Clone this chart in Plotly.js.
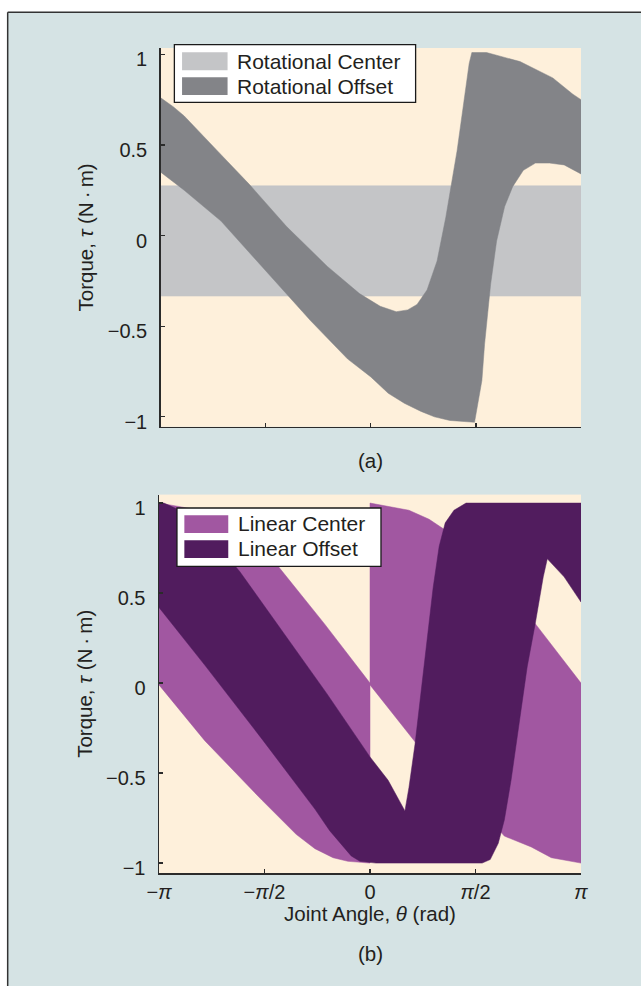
<!DOCTYPE html>
<html>
<head>
<meta charset="utf-8">
<script src="https://cdn.plot.ly/plotly-3.0.1.min.js"></script>
<style>
html, body { margin: 0; padding: 0; background: #ffffff; }
#chart { width: 641px; height: 986px; }
</style>
</head>
<body>
<div id="chart"></div>
<script>
// ---------- data (theta in rad, torque in N·m) ----------
// (a) Rotational configurations
const rotCenterTheta = [-3.1416, 3.1416];
const rotCenterLower = [-0.334, -0.334];
const rotCenterUpper = [0.275, 0.275];

const rotOffsetUpperTheta = [-3.1416, -2.95, -2.79, -2.30, -1.81, -1.26, -0.65, -0.17, 0.14, 0.38, 0.55, 0.69, 0.84, 0.99, 1.12, 1.29, 1.47, 1.51, 1.73, 2.23, 2.72, 3.02, 3.1416];
const rotOffsetUpper      = [0.76, 0.71, 0.66, 0.47, 0.28, 0.05, -0.17, -0.32, -0.39, -0.42, -0.41, -0.38, -0.30, -0.14, 0.10, 0.47, 0.95, 1.01, 1.01, 0.96, 0.87, 0.78, 0.75];
const rotOffsetLowerTheta = [-3.1416, -2.79, -2.24, -1.75, -1.26, -0.90, -0.35, 0.0, 0.26, 0.50, 0.75, 0.95, 1.18, 1.35, 1.55, 1.66, 1.70, 1.79, 1.88, 2.00, 2.12, 2.28, 2.46, 2.67, 2.89, 3.1416];
const rotOffsetLower      = [0.35, 0.25, 0.08, -0.12, -0.32, -0.47, -0.68, -0.78, -0.87, -0.925, -0.97, -1.0, -1.02, -1.025, -1.03, -0.80, -0.60, -0.27, -0.03, 0.16, 0.27, 0.36, 0.40, 0.40, 0.39, 0.34];

// (b) Linear configurations
const linCenterLowerTheta = [-3.1416, -2.46, -1.61, -1.10, -0.82, -0.55, -0.33, -0.03, 0, 0, 0.70, 1.53, 2.00, 2.40, 2.70, 3.1416];
const linCenterLower      = [-0.01, -0.32, -0.65, -0.84, -0.92, -0.97, -0.99, -1.0, -1.0, -0.01, -0.34, -0.65, -0.85, -0.91, -0.97, -1.0];
const linCenterUpperTheta = [-3.1416, -2.83, -2.56, -2.26, -2.02, -1.37, -0.68, 0, 0, 0.31, 0.58, 0.88, 1.12, 1.77, 2.46, 3.1416];
const linCenterUpper      = [1.0, 0.98, 0.96, 0.91, 0.85, 0.65, 0.33, 0.0, 1.0, 0.98, 0.96, 0.91, 0.85, 0.62, 0.33, 0.0];

const linOffsetLowerTheta = [-3.1416, -2.46, -1.61, -0.82, -0.60, -0.40, -0.28, -0.15, 0.09, 1.67, 1.79, 1.91, 2.00, 2.10, 2.22, 2.34, 2.46, 2.58, 2.64, 2.89, 3.1416];
const linOffsetLower      = [0.42, 0.10, -0.31, -0.70, -0.82, -0.91, -0.96, -0.99, -1.0, -1.0, -0.98, -0.89, -0.76, -0.54, -0.21, 0.09, 0.33, 0.59, 0.69, 0.59, 0.45];
const linOffsetUpperTheta = [-3.1416, -3.07, -2.83, -2.46, -1.94, -1.25, -0.64, 0, 0.27, 0.52, 0.58, 0.67, 0.76, 0.85, 0.94, 1.03, 1.12, 1.25, 1.43, 3.1416];
const linOffsetUpper      = [1.0, 1.0, 0.96, 0.85, 0.62, 0.26, -0.06, -0.41, -0.54, -0.71, -0.58, -0.34, -0.06, 0.24, 0.53, 0.76, 0.89, 0.96, 1.0, 1.0];

const seriesNames = ['Rotational Center', 'Rotational Offset', 'Linear Center', 'Linear Offset'];
const xTickVals = [-Math.PI, -Math.PI / 2, 0, Math.PI / 2, Math.PI];
const xTickText = ['\u2212<i>\u03c0</i>', '\u2212<i>\u03c0</i>/2', '0', '<i>\u03c0</i>/2', '<i>\u03c0</i>'];
const yTickVals = [-1, -0.5, 0, 0.5, 1];
const yTickText = ['\u22121', '\u22120.5', '0', '0.5', '1'];

// ---------- style ----------
const C = {
  bg: '#d5e3e4', plot: '#fef0db', axis: '#2b2b2b',
  rotCenter: '#c4c5c7', rotOffset: '#838488',
  linCenter: '#a157a1', linOffset: '#511c5e'
};
const FONT = 'Liberation Sans, Arial, Helvetica, sans-serif';
const TXT = '#231f20';
const W = 641, H = 986;
const M = { l: 158.6, r: 59.6, t: 47.7, b: 113.3 };
const PW = W - M.l - M.r, PH = H - M.t - M.b;
const px = X => (X - M.l) / PW;
const py = Y => (H - M.b - Y) / PH;

function band(thLo, lo, thUp, up, color, xa, ya, name) {
  return {
    type: 'scatter', mode: 'lines', name: name,
    x: thLo.concat(thUp.slice().reverse()),
    y: lo.concat(up.slice().reverse()),
    fill: 'toself', fillcolor: color,
    line: { width: 0.5, color: color },
    xaxis: xa, yaxis: ya, showlegend: false, hoverinfo: 'skip'
  };
}

const traces = [
  band(rotCenterTheta, rotCenterLower, rotCenterTheta, rotCenterUpper, C.rotCenter, 'x', 'y', seriesNames[0]),
  band(rotOffsetLowerTheta, rotOffsetLower, rotOffsetUpperTheta, rotOffsetUpper, C.rotOffset, 'x', 'y', seriesNames[1]),
  band(linCenterLowerTheta, linCenterLower, linCenterUpperTheta, linCenterUpper, C.linCenter, 'x2', 'y2', seriesNames[2]),
  band(linOffsetLowerTheta, linOffsetLower, linOffsetUpperTheta, linOffsetUpper, C.linOffset, 'x2', 'y2', seriesNames[3])
];

const baseX = {
  range: [-Math.PI, Math.PI], tickvals: xTickVals, ticktext: xTickText,
  ticks: 'inside', ticklen: 4, tickwidth: 1.2, tickcolor: C.axis,
  showline: true, linecolor: C.axis, linewidth: 1.5,
  showgrid: false, zeroline: false, fixedrange: true,
  tickfont: { family: FONT, size: 20, color: TXT }
};
const baseY = {
  tickvals: yTickVals, ticktext: yTickText,
  ticks: 'inside', ticklen: 4, tickwidth: 1.2, tickcolor: C.axis,
  showline: true, linecolor: C.axis, linewidth: 1.5,
  showgrid: false, zeroline: false, fixedrange: true,
  ticklabelstandoff: 8, ticklabelshift: 5,
  tickfont: { family: FONT, size: 20, color: TXT },
  title: { text: 'Torque, <i>\u03c4</i> (N\u2009\u00b7\u2009m)', font: { family: FONT, size: 20.5, color: TXT }, standoff: 8 }
};

// legend drawn as shapes + annotations
function legendShapes(box, sw1, sw2, c1, c2) {
  return [
    { type: 'rect', xref: 'paper', yref: 'paper', x0: px(box[0]), x1: px(box[1]), y0: py(box[3]), y1: py(box[2]),
      fillcolor: '#ffffff', line: { color: '#1a1a1a', width: 1.3 }, layer: 'above' },
    { type: 'rect', xref: 'paper', yref: 'paper', x0: px(sw1[0]), x1: px(sw1[1]), y0: py(sw1[3]), y1: py(sw1[2]),
      fillcolor: c1, line: { width: 0 }, layer: 'above' },
    { type: 'rect', xref: 'paper', yref: 'paper', x0: px(sw2[0]), x1: px(sw2[1]), y0: py(sw2[3]), y1: py(sw2[2]),
      fillcolor: c2, line: { width: 0 }, layer: 'above' }
  ];
}
function legendText(X, Y, t) {
  return { xref: 'paper', yref: 'paper', x: px(X), y: py(Y), xanchor: 'left', yanchor: 'middle',
    text: t, showarrow: false, font: { family: FONT, size: 21, color: TXT } };
}

const shapes = [
  { type: 'rect', xref: 'paper', yref: 'paper', x0: px(-5), x1: px(7), y0: py(H + 5), y1: py(-5), fillcolor: '#ffffff', line: { width: 0 }, layer: 'below' },
  { type: 'rect', xref: 'paper', yref: 'paper', x0: px(-5), x1: px(W + 5), y0: py(12), y1: py(-5), fillcolor: '#ffffff', line: { width: 0 }, layer: 'below' },
  { type: 'line', xref: 'paper', yref: 'paper', x0: px(7), x1: px(7), y0: py(12), y1: py(H + 5), line: { color: '#333333', width: 1.5 } },
  { type: 'line', xref: 'paper', yref: 'paper', x0: px(7), x1: px(W + 5), y0: py(12), y1: py(12), line: { color: '#333333', width: 1.5 } }
].concat(
  legendShapes([174, 415.7, 44.3, 102], [181.7, 227.3, 52, 70], [181.7, 227.3, 77, 94.7], C.rotCenter, C.rotOffset),
  legendShapes([176.6, 381, 507.7, 566], [184, 228, 515, 532.7], [184, 228, 540, 557.7], C.linCenter, C.linOffset)
);

const annotations = [
  legendText(235, 61, seriesNames[0]),
  legendText(235, 86, seriesNames[1]),
  legendText(235.5, 523.3, seriesNames[2]),
  legendText(235.5, 548.3, seriesNames[3]),
  { xref: 'paper', yref: 'paper', x: px(371), y: py(460), text: '(a)', showarrow: false,
    xanchor: 'center', yanchor: 'middle', font: { family: FONT, size: 20.5, color: TXT } },
  { xref: 'paper', yref: 'paper', x: px(370.5), y: py(953), text: '(b)', showarrow: false,
    xanchor: 'center', yanchor: 'middle', font: { family: FONT, size: 20.5, color: TXT } }
];

const layout = {
  width: W, height: H,
  margin: M,
  paper_bgcolor: C.bg, plot_bgcolor: C.plot,
  showlegend: false,
  xaxis: Object.assign({}, baseX, { domain: [px(160.3), 1], anchor: 'y', showticklabels: false }),
  yaxis: Object.assign({}, baseY, { domain: [py(426.5), 1], anchor: 'x', range: [-1.055, 1.035] }),
  xaxis2: Object.assign({}, baseX, { domain: [0, 1], anchor: 'y2',
    title: { text: 'Joint Angle, <i>\u03b8</i> (rad)', font: { family: FONT, size: 20.5, color: TXT }, standoff: 4 } }),
  yaxis2: Object.assign({}, baseY, { domain: [0, py(494.3)], anchor: 'x2', range: [-1.055, 1.047] }),
  shapes: shapes,
  annotations: annotations,
  font: { family: FONT, size: 20, color: TXT }
};

Plotly.newPlot('chart', traces, layout, { displayModeBar: false, staticPlot: true });
</script>
</body>
</html>
